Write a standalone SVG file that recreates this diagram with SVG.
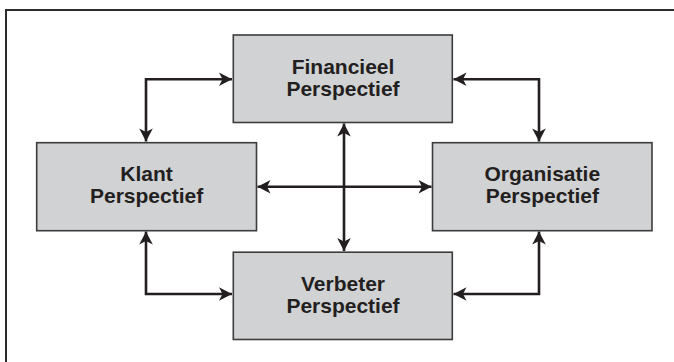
<svg xmlns="http://www.w3.org/2000/svg" width="674" height="362" viewBox="0 0 674 362">
  <style>
    .frame { fill: none; stroke: #2b2b2b; stroke-width: 2; }
    .box { fill: #d1d2d4; stroke: #3c3c3c; stroke-width: 1.6; }
    .label { font-family: "Liberation Sans", Arial, sans-serif; font-weight: bold; font-size: 21px; fill: #231f20; text-anchor: middle; }
    .conn { fill: none; stroke: #231f20; stroke-width: 2.6; stroke-linejoin: miter; }
  </style>
  <defs>
    <marker id="head" markerUnits="userSpaceOnUse" markerWidth="16" markerHeight="16" viewBox="-14 -8 16 16" refX="0" refY="0" orient="auto-start-reverse">
      <path d="M0,0 L-13,-6.8 L-9.5,0 L-13,6.8 Z" fill="#231f20"/>
    </marker>
  </defs>

  <!-- outer frame, open past the right and bottom edges -->
  <rect class="frame" x="6" y="10" width="680" height="370"/>

  <g id="connectors">
    <path class="conn" d="M232,79.3 H146 V141.5" marker-start="url(#head)" marker-end="url(#head)"/>
    <path class="conn" d="M453.5,79.3 H539 V141.5" marker-start="url(#head)" marker-end="url(#head)"/>
    <path class="conn" d="M146,231.5 V294 H232" marker-start="url(#head)" marker-end="url(#head)"/>
    <path class="conn" d="M539,231.5 V294 H453.5" marker-start="url(#head)" marker-end="url(#head)"/>
    <path class="conn" d="M344,123.5 V251" marker-start="url(#head)" marker-end="url(#head)"/>
    <path class="conn" d="M257.5,186.7 H431.5" marker-start="url(#head)" marker-end="url(#head)"/>
  </g>

  <g id="financieel">
    <rect class="box" x="233.3" y="35" width="219" height="87.5"/>
    <text class="label" x="343" y="73.5">Financieel</text>
    <text class="label" x="343" y="95.5">Perspectief</text>
  </g>

  <g id="klant">
    <rect class="box" x="36.7" y="142.7" width="219.8" height="88"/>
    <text class="label" x="146.6" y="181.4">Klant</text>
    <text class="label" x="146.6" y="203.4">Perspectief</text>
  </g>

  <g id="organisatie">
    <rect class="box" x="432.5" y="142.7" width="219.5" height="88"/>
    <text class="label" x="542.3" y="181.4">Organisatie</text>
    <text class="label" x="542.3" y="203.4">Perspectief</text>
  </g>

  <g id="verbeter">
    <rect class="box" x="233.3" y="252.2" width="219" height="87.3"/>
    <text class="label" x="343" y="290.8">Verbeter</text>
    <text class="label" x="343" y="312.8">Perspectief</text>
  </g>
</svg>
